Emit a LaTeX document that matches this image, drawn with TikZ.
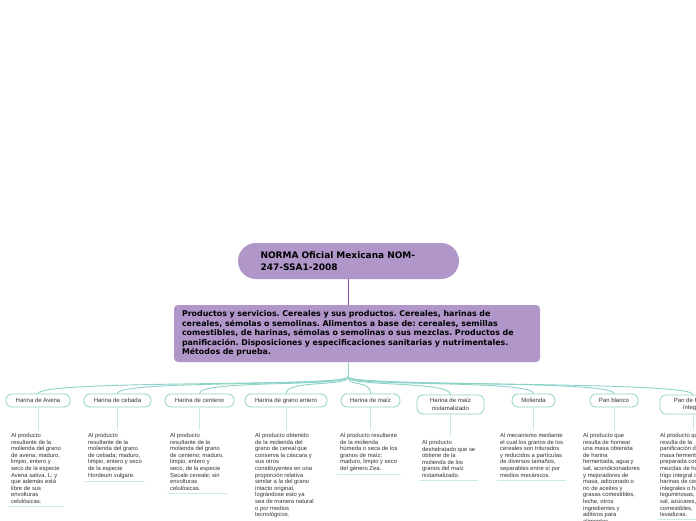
\documentclass[tikz,border=0pt]{standalone}
\usepackage{fontspec}
\setmainfont{Liberation Sans}
\newfontfamily\verdanita{DejaVu Sans}
\usepackage{tikz}
\usetikzlibrary{positioning,calc}
\frenchspacing
\definecolor{lila}{HTML}{B197C9}
\definecolor{lilaosc}{HTML}{7E4FA6}
\definecolor{turq}{HTML}{8DD3C7}
\definecolor{turqclaro}{HTML}{C9EBE5}
\definecolor{tinta}{HTML}{333333}
\tikzset{
  raiz/.style={draw=none, fill=lila, rounded corners=18pt, minimum width=221pt,
               minimum height=36pt, text width=176pt, align=left,
               font=\verdanita\bfseries\fontsize{9}{12}\selectfont, text=black},
  tema/.style={draw=none, fill=lila, rounded corners=4pt, minimum height=57pt,
               inner xsep=8pt, text width=350pt, align=left,
               font=\verdanita\bfseries\fontsize{7.9}{9.5}\selectfont, text=black},
  hijo/.style={draw=turq, line width=0.8pt, fill=white, rounded corners=6pt,
               minimum height=13pt, inner sep=1pt, align=center, text=tinta,
               font=\fontsize{6}{7.4}\selectfont},
  nota/.style={anchor=north west, align=left, inner sep=3pt, text=tinta,
               font=\fontsize{5.85}{6.6}\selectfont},
  tronco/.style={draw=lilaosc, line width=1pt},
  rama/.style={draw=turq, line width=0.9pt},
  baja/.style={draw=turqclaro, line width=0.8pt},
  subraya/.style={draw=turqclaro, line width=1pt},
}
\begin{document}
\begin{tikzpicture}[x=1pt,y=-1pt]
  \useasboundingbox (0,0) rectangle (696,520);
  \clip (0,0) rectangle (696,520);
  \fill[white] (0,0) rectangle (696,520);

  %% ---------- centro ----------
  \node[raiz] (norma) at (348.5,261) {NORMA Oficial Mexicana NOM-\\247-SSA1-2008};
  \node[tema] (titulo) at (357,333.5) {Productos y servicios. Cereales y sus productos. Cereales, harinas de\\
    cereales, sémolas o semolinas. Alimentos a base de: cereales, semillas\\
    comestibles, de harinas, sémolas o semolinas o sus mezclas. Productos de\\
    panificación. Disposiciones y especificaciones sanitarias y nutrimentales.\\
    Métodos de prueba.};
  \coordinate (hub) at (348,377);
  \draw[tronco] (norma |- norma.south) ++(-0.5,0) coordinate (nb) -- (nb |- titulo.north);
  \draw[rama] (hub |- titulo.south) -- (hub);

  %% ---------- subtemas ----------
  \node[hijo, minimum width=64pt] (avena)   at (38,400.5)  {Harina de Avena};
  \node[hijo, minimum width=67pt] (cebada)  at (117.5,400.5) {Harina de cebada};
  \node[hijo, minimum width=69pt] (centeno) at (199.5,400.5) {Harina de centeno};
  \node[hijo, minimum width=82pt] (entero)  at (286,400.5) {Harina de grano entero};
  \node[hijo, minimum width=59pt] (maiz)    at (370.5,400.5) {Harina de maíz};
  \node[hijo, minimum width=67pt, minimum height=19pt] (nixta) at (450.5,404.5) {Harina de maíz\\nixtamalizado};
  \node[hijo, minimum width=43pt] (molienda) at (533.5,400.5) {Molienda};
  \node[hijo, minimum width=48pt] (blanco)  at (614,400.5) {Pan blanco};
  \node[hijo, minimum width=66pt, minimum height=19pt] (integral) at (693,404.5) {Pan de Harina\\integral};

  \foreach \c in {avena,cebada,centeno,entero,maiz,nixta,molienda,blanco,integral}
    \draw[rama] (hub) .. controls +(0,10) and +(0,-14) .. (\c.north);

  %% ---------- definiciones ----------
  \node[nota] (dAvena) at (8,430) {Al producto\\resultante de la\\molienda del grano\\de avena; maduro,\\limpio, entero y\\seco de la especie\\Avena sativa, L; y\\que además está\\libre de sus\\envolturas\\celulósicas.};
  \node[nota] (dCebada) at (85,430) {Al producto\\resultante de la\\molienda del grano\\de cebada; maduro,\\limpio, entero y seco\\de la especie\\Hordeum vulgare.};
  \node[nota] (dCenteno) at (167,430) {Al producto\\resultante de la\\molienda del grano\\de centeno; maduro,\\limpio, entero y\\seco, de la especie\\Secale cereale; sin\\envolturas\\celulósicas.};
  \node[nota] (dEntero) at (252,430) {Al producto obtenido\\de la molienda del\\grano de cereal que\\conserva la cáscara y\\sus otros\\constituyentes en una\\proporción relativa\\similar a la del grano\\intacto original,\\lográndose esto ya\\sea de manera natural\\o por medios\\tecnológicos.};
  \node[nota] (dMaiz) at (337,430) {Al producto resultante\\de la molienda\\húmeda o seca de los\\granos de maíz;\\maduro, limpio y seco\\del género Zea.};
  \node[nota] (dNixta) at (419,437) {Al producto\\deshidratado que se\\obtiene de la\\molienda de los\\granos del maíz\\nixtamalizado.};
  \node[nota] (dMolienda) at (497,430) {Al mecanismo mediante\\el cual los granos de los\\cereales son triturados\\y reducidos a partículas\\de diversos tamaños,\\separables entre sí por\\medios mecánicos.};
  \node[nota] (dBlanco) at (580,430) {Al producto que\\resulta de hornear\\una masa obtenida\\de harina\\fermentada, agua y\\sal, acondicionadores\\y mejoradores de\\masa, adicionado o\\no de aceites y\\grasas comestibles,\\leche, otros\\ingredientes y\\aditivos para\\alimentos.};
  \node[nota] (dIntegral) at (657,430) {Al producto que\\resulta de la\\panificación de una\\masa fermentada\\preparada con\\mezclas de harina de\\trigo integral o\\harinas de cereales\\integrales o harinas de\\leguminosas,\\sal, azúcares,\\comestibles,\\levaduras.};

  %% ---------- uniones y subrayados ----------
  \foreach \c/\d in {avena/dAvena,cebada/dCebada,centeno/dCenteno,entero/dEntero,maiz/dMaiz,
                     nixta/dNixta,molienda/dMolienda,blanco/dBlanco,integral/dIntegral}{
    \draw[baja] (\c.south) -- (\c.south |- \d.north);
    \draw[subraya] (\d.south west) -- (\d.south east);
  }
\end{tikzpicture}
\end{document}
